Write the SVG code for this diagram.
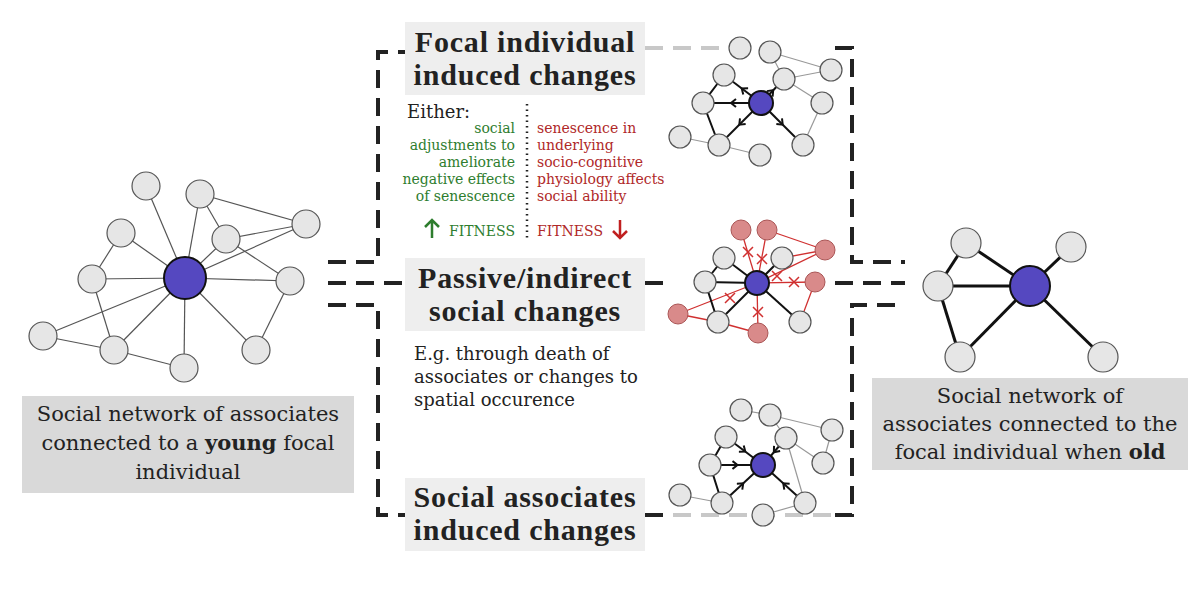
<svg xmlns="http://www.w3.org/2000/svg" width="1200" height="590" viewBox="0 0 1200 590">
<defs>
<style>
text{font-family:"DejaVu Serif","Liberation Serif",serif;fill:#222}
.t{font-family:"Liberation Serif",serif;font-size:30px;font-weight:bold;text-anchor:middle;letter-spacing:0.8px}
.cap{font-size:21px;text-anchor:middle}
.g{fill:#2e7d2e;font-size:14px;text-anchor:end}
.r{fill:#b02828;font-size:14px}
.d{fill:none;stroke:#222;stroke-width:4;stroke-dasharray:18 10}
.dl{fill:none;stroke:#c8c8c8;stroke-width:4;stroke-dasharray:18 10}
.n{fill:#e6e6e6;stroke:#555;stroke-width:1.2}
.c{fill:#5548c0;stroke:#111;stroke-width:2}
.e{stroke:#555;stroke-width:1.2}
.eg{stroke:#999;stroke-width:1.2}
.eb{stroke:#111;stroke-width:2;fill:none}
.er{stroke:#d03030;stroke-width:1.3}
.rn{fill:#d98a8a;stroke:#a55;stroke-width:1}
.x{stroke:#d03030;stroke-width:1.5}
</style>
<marker id="ch" viewBox="0 0 10 10" refX="5" refY="5" markerWidth="10" markerHeight="10" orient="auto" markerUnits="userSpaceOnUse"><path d="M1 1 L6 5 L1 9" fill="none" stroke="#111" stroke-width="2"/></marker>
</defs>
<rect width="1200" height="590" fill="#fff"/>
<g id="connectors">
<path class="d" d="M328 262 H378 V52 H405"/>
<path class="d" d="M328 283 H405"/>
<path class="d" d="M328 305 H378 V515 H405"/>
<path class="dl" d="M645 48 H725"/>
<path class="d" d="M835 48 H852 V262 H905"/>
<path class="d" d="M645 283 H672"/>
<path class="d" d="M835 283 H905"/>
<path class="dl" d="M645 515 H835"/>
<path class="d" d="M645 515 H665"/>
<path class="d" d="M835 515 H852 V305 H905"/>
<line x1="527" y1="104" x2="527" y2="240" stroke="#222" stroke-width="2.5" stroke-dasharray="1.5 4"/>
</g>
<g id="young-network">
<g class="e">
<line x1="185" y1="278" x2="146" y2="186"/><line x1="185" y1="278" x2="200" y2="194"/><line x1="185" y1="278" x2="121" y2="233"/><line x1="185" y1="278" x2="226" y2="239"/><line x1="185" y1="278" x2="306" y2="224"/><line x1="185" y1="278" x2="92" y2="279"/><line x1="185" y1="278" x2="290" y2="281"/><line x1="185" y1="278" x2="43" y2="336"/><line x1="185" y1="278" x2="114" y2="350"/><line x1="185" y1="278" x2="184" y2="368"/><line x1="185" y1="278" x2="256" y2="350"/>
<line x1="200" y1="194" x2="226" y2="239"/><line x1="200" y1="194" x2="306" y2="224"/><line x1="226" y1="239" x2="306" y2="224"/><line x1="226" y1="239" x2="290" y2="281"/><line x1="121" y1="233" x2="92" y2="279"/><line x1="92" y1="279" x2="114" y2="350"/><line x1="43" y1="336" x2="114" y2="350"/><line x1="114" y1="350" x2="184" y2="368"/><line x1="290" y1="281" x2="256" y2="350"/>
</g>
<g class="n">
<circle cx="146" cy="186" r="14"/><circle cx="200" cy="194" r="14"/><circle cx="121" cy="233" r="14"/><circle cx="226" cy="239" r="14"/><circle cx="306" cy="224" r="14"/><circle cx="92" cy="279" r="14"/><circle cx="290" cy="281" r="14"/><circle cx="43" cy="336" r="14"/><circle cx="114" cy="350" r="14"/><circle cx="184" cy="368" r="14"/><circle cx="256" cy="350" r="14"/>
</g>
<circle class="c" cx="185" cy="278" r="21"/>
</g>
<g id="old-network">
<g stroke="#111" stroke-width="3">
<line x1="1030" y1="286" x2="966" y2="243"/><line x1="1030" y1="286" x2="1071" y2="247"/><line x1="1030" y1="286" x2="938" y2="286"/><line x1="1030" y1="286" x2="960" y2="357"/><line x1="1030" y1="286" x2="1103" y2="357"/><line x1="966" y1="243" x2="938" y2="286"/><line x1="938" y1="286" x2="960" y2="357"/>
</g>
<g class="n"><circle cx="966" cy="243" r="15"/><circle cx="1071" cy="247" r="15"/><circle cx="938" cy="286" r="15"/><circle cx="960" cy="357" r="15"/><circle cx="1103" cy="357" r="15"/></g>
<circle class="c" cx="1030" cy="286" r="20"/>
</g>
<g id="focal-mini">
<g class="eg">
<line x1="680" y1="137" x2="719" y2="145"/><line x1="719" y1="145" x2="760" y2="155"/><line x1="770" y1="52" x2="784" y2="79"/><line x1="770" y1="52" x2="831" y2="70"/><line x1="784" y1="79" x2="831" y2="70"/><line x1="784" y1="79" x2="822" y2="103"/><line x1="822" y1="103" x2="803" y2="145"/>
</g>
<g class="eb" marker-mid="url(#ch)">
<path d="M761 103 L742.5 89 L724 75"/><path d="M761 103 L732 103 L703 103"/><path d="M761 103 L740 124 L719 145"/><path d="M761 103 L782 124 L803 145"/><path d="M761 103 L772.5 91 L784 79"/>
<path d="M724 75 L703 103 L719 145" marker-mid="none"/>
</g>
<g class="n"><circle cx="740" cy="48" r="11"/><circle cx="770" cy="52" r="11"/><circle cx="724" cy="75" r="11"/><circle cx="703" cy="103" r="11"/><circle cx="719" cy="145" r="11"/><circle cx="680" cy="137" r="11"/><circle cx="760" cy="155" r="11"/><circle cx="784" cy="79" r="11"/><circle cx="831" cy="70" r="11"/><circle cx="822" cy="103" r="11"/><circle cx="803" cy="145" r="11"/></g>
<circle class="c" cx="761" cy="103" r="12"/>
</g>
<g id="passive-mini">
<g class="er">
<line x1="757" y1="283" x2="741" y2="230"/><line x1="757" y1="283" x2="767" y2="230"/><line x1="757" y1="283" x2="825" y2="250"/><line x1="757" y1="283" x2="815" y2="282"/><line x1="757" y1="283" x2="678" y2="314"/><line x1="757" y1="283" x2="758" y2="333"/>
<line x1="767" y1="230" x2="825" y2="250"/><line x1="782" y1="258" x2="825" y2="250"/><line x1="815" y1="282" x2="800" y2="322"/><line x1="678" y1="314" x2="718" y2="322"/><line x1="718" y1="322" x2="758" y2="333"/>
</g>
<g class="eb">
<line x1="757" y1="283" x2="724" y2="258"/><line x1="757" y1="283" x2="705" y2="282"/><line x1="757" y1="283" x2="718" y2="322"/><line x1="757" y1="283" x2="800" y2="322"/><line x1="757" y1="283" x2="782" y2="258"/><line x1="724" y1="258" x2="705" y2="282"/><line x1="705" y1="282" x2="718" y2="322"/>
</g>
<g class="x">
<path d="M743 247 l10 10 M753 247 l-10 10"/><path d="M757 254 l10 10 M767 254 l-10 10"/><path d="M772 271 l10 10 M782 271 l-10 10"/><path d="M789 277 l10 10 M799 277 l-10 10"/><path d="M725 293 l10 10 M735 293 l-10 10"/><path d="M753 307 l10 10 M763 307 l-10 10"/>
</g>
<g class="rn"><circle cx="741" cy="230" r="10"/><circle cx="767" cy="230" r="10"/><circle cx="825" cy="250" r="10"/><circle cx="815" cy="282" r="10"/><circle cx="678" cy="314" r="10"/><circle cx="758" cy="333" r="10"/></g>
<g class="n"><circle cx="724" cy="258" r="11"/><circle cx="705" cy="282" r="11"/><circle cx="718" cy="322" r="11"/><circle cx="800" cy="322" r="11"/><circle cx="782" cy="258" r="11"/></g>
<circle class="c" cx="757" cy="283" r="12"/>
</g>
<g id="associates-mini">
<g class="eg">
<line x1="741" y1="410" x2="770" y2="415"/><line x1="770" y1="415" x2="832" y2="430"/><line x1="770" y1="415" x2="786" y2="438"/><line x1="786" y1="438" x2="823" y2="463"/><line x1="832" y1="430" x2="823" y2="463"/><line x1="786" y1="438" x2="805" y2="503"/><line x1="680" y1="495" x2="722" y2="503"/><line x1="805" y1="503" x2="763" y2="515"/>
</g>
<g class="eb" marker-mid="url(#ch)">
<path d="M726 437 L744.5 451 L763 465"/><path d="M710 465 L736.5 465 L763 465"/><path d="M722 503 L742.5 484 L763 465"/><path d="M805 503 L784 484 L763 465"/><path d="M786 438 L774.5 451.5 L763 465"/>
<path d="M726 437 L710 465 L722 503" marker-mid="none"/>
</g>
<g class="n"><circle cx="741" cy="410" r="11"/><circle cx="770" cy="415" r="11"/><circle cx="726" cy="437" r="11"/><circle cx="786" cy="438" r="11"/><circle cx="832" cy="430" r="11"/><circle cx="710" cy="465" r="11"/><circle cx="823" cy="463" r="11"/><circle cx="680" cy="495" r="11"/><circle cx="722" cy="503" r="11"/><circle cx="805" cy="503" r="11"/><circle cx="763" cy="515" r="11"/></g>
<circle class="c" cx="763" cy="465" r="12"/>
</g>
<g id="focal-title">
<rect x="405" y="22" width="240" height="73" fill="#eeeeee"/>
<text class="t" x="525" y="52">Focal individual</text>
<text class="t" x="525" y="85">induced changes</text>
</g>
<g id="focal-text">
<text x="407" y="118" font-size="18">Either:</text>
<text class="g" x="515" y="133">social</text>
<text class="g" x="515" y="150">adjustments to</text>
<text class="g" x="515" y="167">ameliorate</text>
<text class="g" x="515" y="184">negative effects</text>
<text class="g" x="515" y="201">of senescence</text>
<text class="r" x="537" y="133">senescence in</text>
<text class="r" x="537" y="150">underlying</text>
<text class="r" x="537" y="167">socio-cognitive</text>
<text class="r" x="537" y="184">physiology affects</text>
<text class="r" x="537" y="201">social ability</text>
<text class="g" x="515" y="236" font-size="15">FITNESS</text>
<path d="M432 238 V220 M425 227 L432 220 L439 227" fill="none" stroke="#2e7d2e" stroke-width="2.5"/>
<text class="r" x="537" y="236" font-size="15">FITNESS</text>
<path d="M620 220 V238 M613 231 L620 238 L627 231" fill="none" stroke="#c02020" stroke-width="2.5"/>
</g>
<g id="passive-title">
<rect x="405" y="258" width="240" height="73" fill="#eeeeee"/>
<text class="t" x="525" y="288">Passive/indirect</text>
<text class="t" x="525" y="321">social changes</text>
<text x="414" y="360" font-size="18">E.g. through death of</text>
<text x="414" y="383" font-size="18">associates or changes to</text>
<text x="414" y="406" font-size="18">spatial occurence</text>
</g>
<g id="associates-title">
<rect x="405" y="478" width="240" height="73" fill="#eeeeee"/>
<text class="t" x="525" y="507">Social associates</text>
<text class="t" x="525" y="540">induced changes</text>
</g>
<g id="young-caption">
<rect x="22" y="396" width="332" height="97" fill="#d9d9d9"/>
<text class="cap" x="188" y="421">Social network of associates</text>
<text class="cap" x="188" y="450">connected to a <tspan font-weight="bold">young</tspan> focal</text>
<text class="cap" x="188" y="479">individual</text>
</g>
<g id="old-caption">
<rect x="872" y="378" width="316" height="92" fill="#d9d9d9"/>
<text class="cap" x="1030" y="403">Social network of</text>
<text class="cap" x="1030" y="431">associates connected to the</text>
<text class="cap" x="1030" y="459">focal individual when <tspan font-weight="bold">old</tspan></text>
</g>
</svg>
